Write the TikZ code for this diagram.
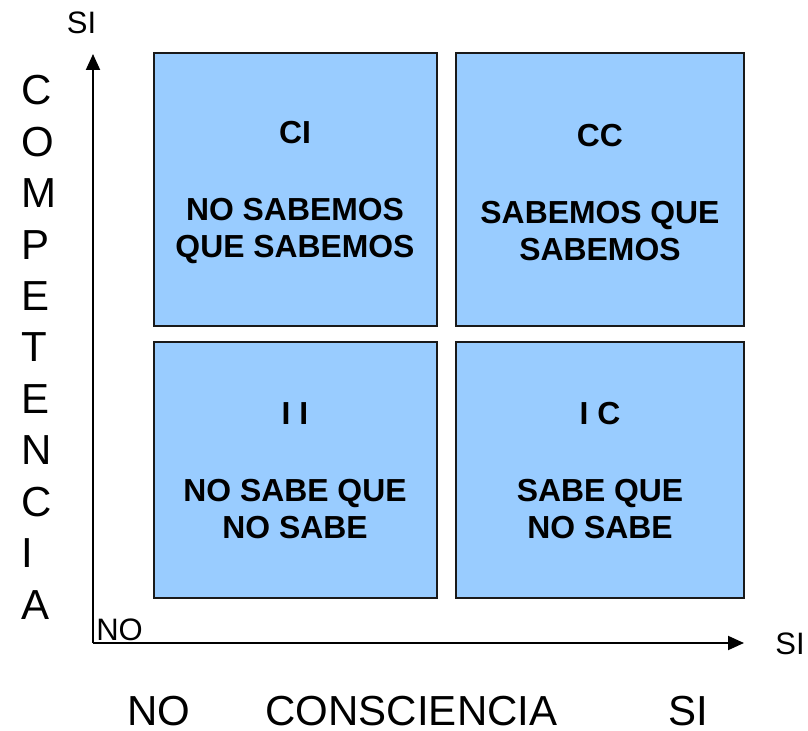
\documentclass[tikz,border=0pt]{standalone}
\usepackage{fontspec}
\setmainfont{Liberation Sans}
\usepackage{xcolor}
\usetikzlibrary{arrows.meta}
\definecolor{quadblue}{HTML}{99CCFF}
\definecolor{quadline}{HTML}{1A1A1A}

\begin{document}
\begin{tikzpicture}[x=0.75pt,y=-0.75pt,
    quad/.style={fill=quadblue,draw=quadline,line width=1.3pt},
    quadtext/.style={align=center,inner sep=0pt,font=\fontsize{23.9}{27.75}\selectfont\bfseries},
    axis/.style={line width=1.4pt,-{Triangle[length=12pt,width=10.5pt]}},
    biglabel/.style={inner sep=0pt,font=\fontsize{31.5}{37}\selectfont},
    smalllabel/.style={inner sep=0pt,font=\fontsize{23.25}{27.75}\selectfont}]
                \useasboundingbox (0,0) rectangle (808,731);

                % Define the four quadrants
                \draw[quad] (154,53) rectangle (437,326);
                \node[quadtext] (ci) at (295,193) {CI\\[30pt]NO SABEMOS\\QUE SABEMOS};

                \draw[quad] (456,53) rectangle (744,326);
                \node[quadtext] (cc) at (600,193) {CC\\[30pt]SABEMOS QUE\\SABEMOS};

                \draw[quad] (154,342) rectangle (437,598);
                \node[quadtext] (ii) at (295,471) {I I\\[30pt]NO SABE QUE\\NO SABE};

                \draw[quad] (456,342) rectangle (744,598);
                \node[quadtext] (ic) at (600,471) {I C\\[30pt]SABE QUE\\NO SABE};

                % Define the axes
                \coordinate (origin) at (93,643);
                \coordinate (ytip) at (93,54);
                \coordinate (xtip) at (744,643);
                \draw[axis] (origin) -- (ytip);
                \draw[axis] (origin) -- (xtip);

                % Axis end labels
                \node[smalllabel,anchor=base] (ysi) at (81.5,34) {SI};
                \node[smalllabel,anchor=base] (xsi) at (790,654) {SI};
                \node[smalllabel,anchor=base west] (origno) at (96,640) {NO};

                % Vertical axis title, one letter per line
                \foreach \letter [count=\k from 0] in {C,O,M,P,E,T,E,N,C,I,A}
                    \node[biglabel,anchor=base west] (comp\k) at (21,105+51.4*\k) {\letter};

                % Horizontal axis title
                \node[biglabel,anchor=base] (conno) at (159,725) {NO};
                \node[biglabel,anchor=base] (contitle) at (411.5,725) {CONSCIENCIA};
                \node[biglabel,anchor=base] (consi) at (688,725) {SI};

            \end{tikzpicture}
\end{document}
